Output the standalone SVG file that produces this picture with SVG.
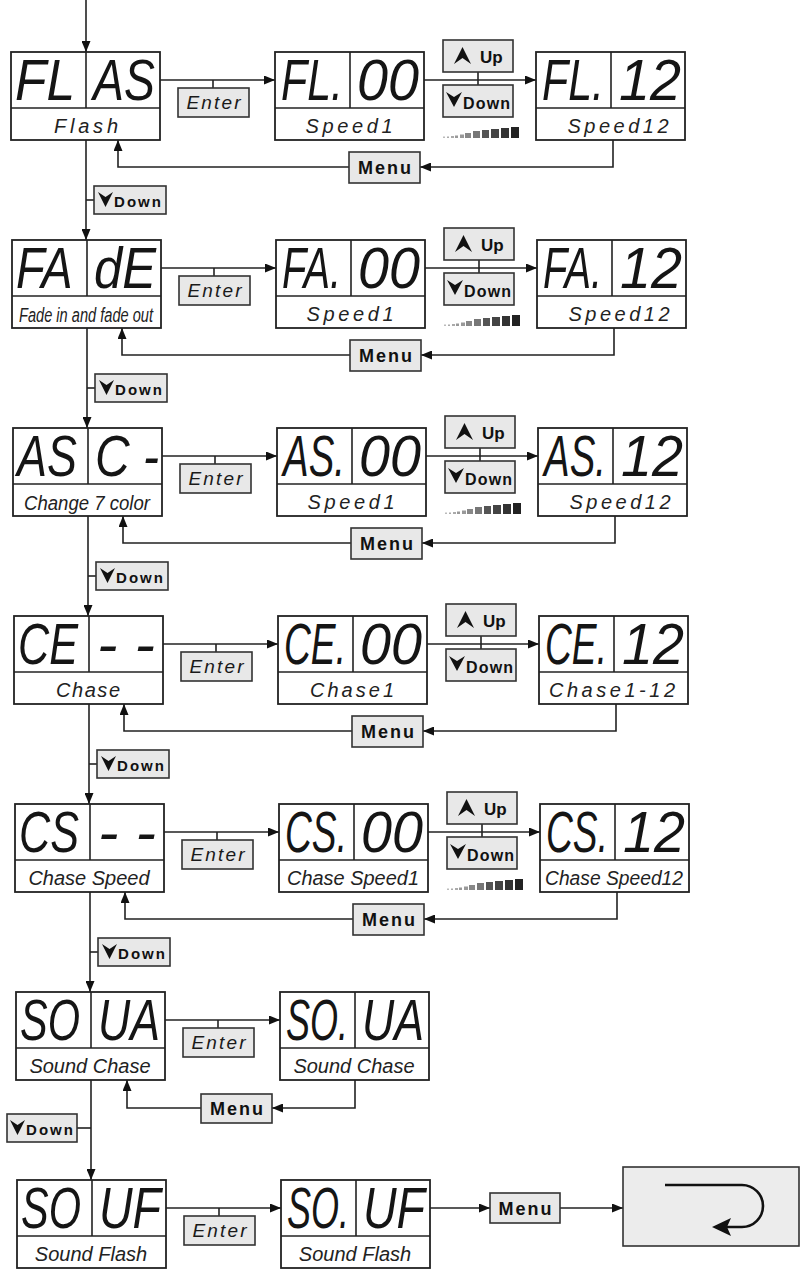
<svg xmlns="http://www.w3.org/2000/svg" xmlns:xlink="http://www.w3.org/1999/xlink" width="802" height="1270" viewBox="0 0 802 1270">
<style>
.box{fill:#fff;stroke:#222;stroke-width:1.8}
.dv{stroke:#222;stroke-width:1.6}
.btn{fill:#e8e8e8;stroke:#333;stroke-width:1.6}
.seg{font-family:"Liberation Sans",Arial,sans-serif;font-style:italic;font-size:58px;fill:#151515}
.lbl{font-family:"Liberation Sans",Arial,sans-serif;font-style:italic;font-size:20px;fill:#222;text-anchor:middle}
.ent{font-family:"Liberation Sans",Arial,sans-serif;font-style:italic;font-size:19px;fill:#1a1a1a;text-anchor:middle}
.mn{font-family:"Liberation Sans",Arial,sans-serif;font-weight:bold;font-size:18px;fill:#111;text-anchor:middle}
.bt{font-family:"Liberation Sans",Arial,sans-serif;font-weight:bold;font-size:15px;fill:#111}
.up{font-family:"Liberation Sans",Arial,sans-serif;font-weight:bold;font-size:17px;fill:#111}
.bd{font-family:"Liberation Sans",Arial,sans-serif;font-weight:bold;font-size:16px;fill:#111}
.cn{fill:none;stroke:#222;stroke-width:1.6}
.ic{fill:#111}
</style>
<defs>
<marker id="ah" markerUnits="userSpaceOnUse" markerWidth="11" markerHeight="9" refX="11" refY="4.5" orient="auto"><path d="M0,0 L11,4.5 L0,9 Z" fill="#111"/></marker>
<g id="bars">
<rect x="0" y="-1.5" width="2" height="1.5" fill="#bbb"/><rect x="4" y="-1.5" width="2" height="1.5" fill="#aaa"/><rect x="8" y="-2" width="3" height="2" fill="#aaa"/><rect x="12" y="-2.5" width="3" height="2.5" fill="#999"/><rect x="17" y="-3.5" width="4" height="3.5" fill="#999"/><rect x="22" y="-5" width="6" height="5" fill="#888"/><rect x="30" y="-7" width="7" height="7" fill="#777"/><rect x="39" y="-8" width="7" height="8" fill="#555"/><rect x="48" y="-9" width="8" height="9" fill="#444"/><rect x="58" y="-10" width="8" height="10" fill="#333"/><rect x="68" y="-11" width="8" height="11" fill="#222"/>
</g>
</defs>
<rect width="802" height="1270" fill="#fff"/>

<g id="connectors">
<path class="cn" d="M86,0V52" marker-end="url(#ah)"/>
<path class="cn" d="M160,80H275" marker-end="url(#ah)"/><path class="cn" d="M213,80V88"/>
<path class="cn" d="M424,80H536" marker-end="url(#ah)"/><path class="cn" d="M478,72V85"/>
<path class="cn" d="M613,140V167H420" marker-end="url(#ah)"/>
<path class="cn" d="M349,167H118V140" marker-end="url(#ah)"/>
<path class="cn" d="M86,140V240" marker-end="url(#ah)"/><path class="cn" d="M86,200H94"/>

<path class="cn" d="M161,268H276" marker-end="url(#ah)"/><path class="cn" d="M214,268V276"/>
<path class="cn" d="M425,268H537" marker-end="url(#ah)"/><path class="cn" d="M479,260V273"/>
<path class="cn" d="M614,328V355H421" marker-end="url(#ah)"/>
<path class="cn" d="M350,355H122V328" marker-end="url(#ah)"/>
<path class="cn" d="M87,328V428" marker-end="url(#ah)"/><path class="cn" d="M87,388H95"/>

<path class="cn" d="M162,456H277" marker-end="url(#ah)"/><path class="cn" d="M215,456V464"/>
<path class="cn" d="M426,456H538" marker-end="url(#ah)"/><path class="cn" d="M480,448V461"/>
<path class="cn" d="M615,516V543H422" marker-end="url(#ah)"/>
<path class="cn" d="M351,543H123V516" marker-end="url(#ah)"/>
<path class="cn" d="M88,516V616" marker-end="url(#ah)"/><path class="cn" d="M88,576H96"/>

<path class="cn" d="M163,644H278" marker-end="url(#ah)"/><path class="cn" d="M216,644V652"/>
<path class="cn" d="M427,644H539" marker-end="url(#ah)"/><path class="cn" d="M481,636V649"/>
<path class="cn" d="M616,704V731H423" marker-end="url(#ah)"/>
<path class="cn" d="M352,731H124V704" marker-end="url(#ah)"/>
<path class="cn" d="M89,704V804" marker-end="url(#ah)"/><path class="cn" d="M89,764H97"/>

<path class="cn" d="M164,832H279" marker-end="url(#ah)"/><path class="cn" d="M217,832V840"/>
<path class="cn" d="M428,832H540" marker-end="url(#ah)"/><path class="cn" d="M482,824V837"/>
<path class="cn" d="M617,892V919H424" marker-end="url(#ah)"/>
<path class="cn" d="M353,919H125V892" marker-end="url(#ah)"/>
<path class="cn" d="M90,892V992" marker-end="url(#ah)"/><path class="cn" d="M90,952H98"/>

<path class="cn" d="M165,1020H280" marker-end="url(#ah)"/><path class="cn" d="M218,1020V1028"/>
<path class="cn" d="M355,1080V1108H272" marker-end="url(#ah)"/>
<path class="cn" d="M201,1108H127V1080" marker-end="url(#ah)"/>
<path class="cn" d="M91,1080V1180" marker-end="url(#ah)"/><path class="cn" d="M91,1128H77"/>

<path class="cn" d="M166,1208H281" marker-end="url(#ah)"/><path class="cn" d="M219,1208V1216"/>
<path class="cn" d="M430,1208H490" marker-end="url(#ah)"/>
<path class="cn" d="M560,1208H623" marker-end="url(#ah)"/>
</g>

<g id="speed-scales">
<use xlink:href="#bars" href="#bars" x="443" y="138"/>
<use xlink:href="#bars" href="#bars" x="444" y="326"/>
<use xlink:href="#bars" href="#bars" x="445" y="514"/>
<use xlink:href="#bars" href="#bars" x="447" y="890"/>
</g>

<!-- Row 1 -->
<g id="n-flas" transform="translate(11,52)"><rect class="box" width="149" height="88"/><line class="dv" x1="0" y1="56" x2="149" y2="56"/><line class="dv" x1="75" y1="0" x2="75" y2="56"/><text class="seg" transform="translate(4,48) scale(0.886,1)">FL</text><text class="seg" transform="translate(82,48) scale(0.8,1)">AS</text><text class="lbl" x="75" y="81" textLength="64">Flash</text></g>
<g id="n-fl00" transform="translate(275,52)"><rect class="box" width="149" height="88"/><line class="dv" x1="0" y1="56" x2="149" y2="56"/><line class="dv" x1="75" y1="0" x2="75" y2="56"/><text class="seg" transform="translate(6,48) scale(0.74,1)">FL.</text><text class="seg" transform="translate(82,48) scale(0.961,1)">00</text><text class="lbl" x="74" y="81" textLength="87">Speed1</text></g>
<g id="n-fl12" transform="translate(536,52)"><rect class="box" width="149" height="88"/><line class="dv" x1="0" y1="56" x2="149" y2="56"/><line class="dv" x1="75" y1="0" x2="75" y2="56"/><text class="seg" transform="translate(6,48) scale(0.74,1)">FL.</text><text class="seg" transform="translate(83,48) scale(0.961,1)">12</text><text class="lbl" x="82" y="81" textLength="101">Speed12</text></g>

<!-- Row 2 -->
<g id="n-fade" transform="translate(12,240)"><rect class="box" width="149" height="88"/><line class="dv" x1="0" y1="56" x2="149" y2="56"/><line class="dv" x1="75" y1="0" x2="75" y2="56"/><text class="seg" transform="translate(4,48) scale(0.81,1)">FA</text><text class="seg" transform="translate(82,48) scale(0.874,1)">dE</text><text class="lbl" x="74" y="82" textLength="134" lengthAdjust="spacingAndGlyphs">Fade in and fade out</text></g>
<g id="n-fa00" transform="translate(276,240)"><rect class="box" width="149" height="88"/><line class="dv" x1="0" y1="56" x2="149" y2="56"/><line class="dv" x1="75" y1="0" x2="75" y2="56"/><text class="seg" transform="translate(6,48) scale(0.687,1)">FA.</text><text class="seg" transform="translate(82,48) scale(0.961,1)">00</text><text class="lbl" x="74" y="81" textLength="87">Speed1</text></g>
<g id="n-fa12" transform="translate(537,240)"><rect class="box" width="149" height="88"/><line class="dv" x1="0" y1="56" x2="149" y2="56"/><line class="dv" x1="75" y1="0" x2="75" y2="56"/><text class="seg" transform="translate(6,48) scale(0.687,1)">FA.</text><text class="seg" transform="translate(83,48) scale(0.961,1)">12</text><text class="lbl" x="82" y="81" textLength="101">Speed12</text></g>

<!-- Row 3 -->
<g id="n-asc" transform="translate(13,428)"><rect class="box" width="149" height="88"/><line class="dv" x1="0" y1="56" x2="149" y2="56"/><line class="dv" x1="75" y1="0" x2="75" y2="56"/><text class="seg" transform="translate(4,48) scale(0.775,1)">AS</text><text class="seg" transform="translate(82,48) scale(0.828,1)">C -</text><text class="lbl" x="74" y="82" textLength="126" lengthAdjust="spacingAndGlyphs">Change 7 color</text></g>
<g id="n-as00" transform="translate(277,428)"><rect class="box" width="149" height="88"/><line class="dv" x1="0" y1="56" x2="149" y2="56"/><line class="dv" x1="75" y1="0" x2="75" y2="56"/><text class="seg" transform="translate(6,48) scale(0.663,1)">AS.</text><text class="seg" transform="translate(82,48) scale(0.961,1)">00</text><text class="lbl" x="74" y="81" textLength="87">Speed1</text></g>
<g id="n-as12" transform="translate(538,428)"><rect class="box" width="149" height="88"/><line class="dv" x1="0" y1="56" x2="149" y2="56"/><line class="dv" x1="75" y1="0" x2="75" y2="56"/><text class="seg" transform="translate(6,48) scale(0.663,1)">AS.</text><text class="seg" transform="translate(83,48) scale(0.961,1)">12</text><text class="lbl" x="82" y="81" textLength="101">Speed12</text></g>

<!-- Row 4 -->
<g id="n-ce" transform="translate(14,616)"><rect class="box" width="149" height="88"/><line class="dv" x1="0" y1="56" x2="149" y2="56"/><line class="dv" x1="75" y1="0" x2="75" y2="56"/><text class="seg" transform="translate(4,48) scale(0.745,1)">CE</text><text class="seg" transform="translate(83,48) scale(1.06,1)">- -</text><text class="lbl" x="74" y="81" textLength="64">Chase</text></g>
<g id="n-ce00" transform="translate(278,616)"><rect class="box" width="149" height="88"/><line class="dv" x1="0" y1="56" x2="149" y2="56"/><line class="dv" x1="75" y1="0" x2="75" y2="56"/><text class="seg" transform="translate(6,48) scale(0.641,1)">CE.</text><text class="seg" transform="translate(82,48) scale(0.961,1)">00</text><text class="lbl" x="74" y="81" textLength="84">Chase1</text></g>
<g id="n-ce12" transform="translate(539,616)"><rect class="box" width="149" height="88"/><line class="dv" x1="0" y1="56" x2="149" y2="56"/><line class="dv" x1="75" y1="0" x2="75" y2="56"/><text class="seg" transform="translate(6,48) scale(0.641,1)">CE.</text><text class="seg" transform="translate(83,48) scale(0.961,1)">12</text><text class="lbl" x="73" y="81" textLength="126">Chase1-12</text></g>

<!-- Row 5 -->
<g id="n-cs" transform="translate(15,804)"><rect class="box" width="149" height="88"/><line class="dv" x1="0" y1="56" x2="149" y2="56"/><line class="dv" x1="75" y1="0" x2="75" y2="56"/><text class="seg" transform="translate(4,48) scale(0.745,1)">CS</text><text class="seg" transform="translate(83,48) scale(1.06,1)">- -</text><text class="lbl" x="74" y="81">Chase Speed</text></g>
<g id="n-cs00" transform="translate(279,804)"><rect class="box" width="149" height="88"/><line class="dv" x1="0" y1="56" x2="149" y2="56"/><line class="dv" x1="75" y1="0" x2="75" y2="56"/><text class="seg" transform="translate(6,48) scale(0.641,1)">CS.</text><text class="seg" transform="translate(82,48) scale(0.961,1)">00</text><text class="lbl" x="74" y="81" textLength="132" lengthAdjust="spacingAndGlyphs">Chase Speed1</text></g>
<g id="n-cs12" transform="translate(540,804)"><rect class="box" width="149" height="88"/><line class="dv" x1="0" y1="56" x2="149" y2="56"/><line class="dv" x1="75" y1="0" x2="75" y2="56"/><text class="seg" transform="translate(6,48) scale(0.641,1)">CS.</text><text class="seg" transform="translate(83,48) scale(0.961,1)">12</text><text class="lbl" x="74" y="81" textLength="138" lengthAdjust="spacingAndGlyphs">Chase Speed12</text></g>

<!-- Row 6 -->
<g id="n-soua" transform="translate(16,992)"><rect class="box" width="149" height="88"/><line class="dv" x1="0" y1="56" x2="149" y2="56"/><line class="dv" x1="75" y1="0" x2="75" y2="56"/><text class="seg" transform="translate(4,48) scale(0.716,1)">SO</text><text class="seg" transform="translate(82,48) scale(0.769,1)">UA</text><text class="lbl" x="74" y="81">Sound Chase</text></g>
<g id="n-so-ua" transform="translate(280,992)"><rect class="box" width="149" height="88"/><line class="dv" x1="0" y1="56" x2="149" y2="56"/><line class="dv" x1="75" y1="0" x2="75" y2="56"/><text class="seg" transform="translate(6,48) scale(0.621,1)">SO.</text><text class="seg" transform="translate(82,48) scale(0.769,1)">UA</text><text class="lbl" x="74" y="81">Sound Chase</text></g>

<!-- Row 7 -->
<g id="n-souf" transform="translate(17,1180)"><rect class="box" width="149" height="88"/><line class="dv" x1="0" y1="56" x2="149" y2="56"/><line class="dv" x1="75" y1="0" x2="75" y2="56"/><text class="seg" transform="translate(4,48) scale(0.716,1)">SO</text><text class="seg" transform="translate(82,48) scale(0.802,1)">UF</text><text class="lbl" x="74" y="81">Sound Flash</text></g>
<g id="n-so-uf" transform="translate(281,1180)"><rect class="box" width="149" height="88"/><line class="dv" x1="0" y1="56" x2="149" y2="56"/><line class="dv" x1="75" y1="0" x2="75" y2="56"/><text class="seg" transform="translate(6,48) scale(0.621,1)">SO.</text><text class="seg" transform="translate(82,48) scale(0.802,1)">UF</text><text class="lbl" x="74" y="81">Sound Flash</text></g>

<g id="n-return">
<rect x="623" y="1167" width="176" height="79" fill="#ececec" stroke="#333" stroke-width="1.6"/>
<path d="M665,1185H742A21,21 0 0 1 742,1227H726" fill="none" stroke="#111" stroke-width="2.6"/>
<path d="M712,1227L731,1218L727,1227L731,1236Z" fill="#111"/>
</g>

<!-- Enter buttons -->
<g id="enter-1" transform="translate(178,88)"><rect class="btn" width="71" height="29"/><text class="ent" x="35.5" y="21" textLength="54" lengthAdjust="spacing">Enter</text></g>
<g id="enter-2" transform="translate(179,276)"><rect class="btn" width="71" height="29"/><text class="ent" x="35.5" y="21" textLength="54" lengthAdjust="spacing">Enter</text></g>
<g id="enter-3" transform="translate(180,464)"><rect class="btn" width="71" height="29"/><text class="ent" x="35.5" y="21" textLength="54" lengthAdjust="spacing">Enter</text></g>
<g id="enter-4" transform="translate(181,652)"><rect class="btn" width="71" height="29"/><text class="ent" x="35.5" y="21" textLength="54" lengthAdjust="spacing">Enter</text></g>
<g id="enter-5" transform="translate(182,840)"><rect class="btn" width="71" height="29"/><text class="ent" x="35.5" y="21" textLength="54" lengthAdjust="spacing">Enter</text></g>
<g id="enter-6" transform="translate(183,1028)"><rect class="btn" width="71" height="29"/><text class="ent" x="35.5" y="21" textLength="54" lengthAdjust="spacing">Enter</text></g>
<g id="enter-7" transform="translate(184,1216)"><rect class="btn" width="71" height="29"/><text class="ent" x="35.5" y="21" textLength="54" lengthAdjust="spacing">Enter</text></g>

<!-- Up / Down pairs -->
<g id="up-1" transform="translate(443,40)"><rect class="btn" width="70" height="32"/><polygon class="ic" points="11,24 19.5,7 28,24 19.5,18"/><text class="up" x="37" y="23">Up</text></g>
<g id="down-1" transform="translate(443,85)"><rect class="btn" width="70" height="32"/><polygon class="ic" points="3,7 11,12 19,7 11,22"/><text class="bd" x="20" y="24" textLength="47">Down</text></g>
<g id="up-2" transform="translate(444,228)"><rect class="btn" width="70" height="32"/><polygon class="ic" points="11,24 19.5,7 28,24 19.5,18"/><text class="up" x="37" y="23">Up</text></g>
<g id="down-2" transform="translate(444,273)"><rect class="btn" width="70" height="32"/><polygon class="ic" points="3,7 11,12 19,7 11,22"/><text class="bd" x="20" y="24" textLength="47">Down</text></g>
<g id="up-3" transform="translate(445,416)"><rect class="btn" width="70" height="32"/><polygon class="ic" points="11,24 19.5,7 28,24 19.5,18"/><text class="up" x="37" y="23">Up</text></g>
<g id="down-3" transform="translate(445,461)"><rect class="btn" width="70" height="32"/><polygon class="ic" points="3,7 11,12 19,7 11,22"/><text class="bd" x="20" y="24" textLength="47">Down</text></g>
<g id="up-4" transform="translate(446,604)"><rect class="btn" width="70" height="32"/><polygon class="ic" points="11,24 19.5,7 28,24 19.5,18"/><text class="up" x="37" y="23">Up</text></g>
<g id="down-4" transform="translate(446,649)"><rect class="btn" width="70" height="32"/><polygon class="ic" points="3,7 11,12 19,7 11,22"/><text class="bd" x="20" y="24" textLength="47">Down</text></g>
<g id="up-5" transform="translate(447,792)"><rect class="btn" width="70" height="32"/><polygon class="ic" points="11,24 19.5,7 28,24 19.5,18"/><text class="up" x="37" y="23">Up</text></g>
<g id="down-5" transform="translate(447,837)"><rect class="btn" width="70" height="32"/><polygon class="ic" points="3,7 11,12 19,7 11,22"/><text class="bd" x="20" y="24" textLength="47">Down</text></g>

<!-- Menu buttons -->
<g id="menu-1" transform="translate(349,152)"><rect class="btn" width="71" height="31"/><text class="mn" x="35.5" y="22" textLength="53">Menu</text></g>
<g id="menu-2" transform="translate(350,340)"><rect class="btn" width="71" height="31"/><text class="mn" x="35.5" y="22" textLength="53">Menu</text></g>
<g id="menu-3" transform="translate(351,528)"><rect class="btn" width="71" height="31"/><text class="mn" x="35.5" y="22" textLength="53">Menu</text></g>
<g id="menu-4" transform="translate(352,716)"><rect class="btn" width="71" height="31"/><text class="mn" x="35.5" y="22" textLength="53">Menu</text></g>
<g id="menu-5" transform="translate(353,904)"><rect class="btn" width="71" height="31"/><text class="mn" x="35.5" y="22" textLength="53">Menu</text></g>
<g id="menu-6" transform="translate(201,1094)"><rect class="btn" width="71" height="29"/><text class="mn" x="35.5" y="21" textLength="53">Menu</text></g>
<g id="menu-7" transform="translate(490,1193)"><rect class="btn" width="70" height="30"/><text class="mn" x="35" y="21.5" textLength="53">Menu</text></g>

<!-- Down buttons between rows -->
<g id="next-1" transform="translate(94,186)"><rect class="btn" width="72" height="28"/><polygon class="ic" points="4,6 11.5,11 19,6 11.5,21"/><text class="bt" x="20" y="21" textLength="47">Down</text></g>
<g id="next-2" transform="translate(95,374)"><rect class="btn" width="72" height="28"/><polygon class="ic" points="4,6 11.5,11 19,6 11.5,21"/><text class="bt" x="20" y="21" textLength="47">Down</text></g>
<g id="next-3" transform="translate(96,562)"><rect class="btn" width="72" height="28"/><polygon class="ic" points="4,6 11.5,11 19,6 11.5,21"/><text class="bt" x="20" y="21" textLength="47">Down</text></g>
<g id="next-4" transform="translate(97,750)"><rect class="btn" width="72" height="28"/><polygon class="ic" points="4,6 11.5,11 19,6 11.5,21"/><text class="bt" x="20" y="21" textLength="47">Down</text></g>
<g id="next-5" transform="translate(98,938)"><rect class="btn" width="72" height="28"/><polygon class="ic" points="4,6 11.5,11 19,6 11.5,21"/><text class="bt" x="20" y="21" textLength="47">Down</text></g>
<g id="next-6" transform="translate(7,1114)"><rect class="btn" width="70" height="28"/><polygon class="ic" points="3,6 10.5,11 18,6 10.5,21"/><text class="bt" x="19" y="21" textLength="47">Down</text></g>
</svg>
